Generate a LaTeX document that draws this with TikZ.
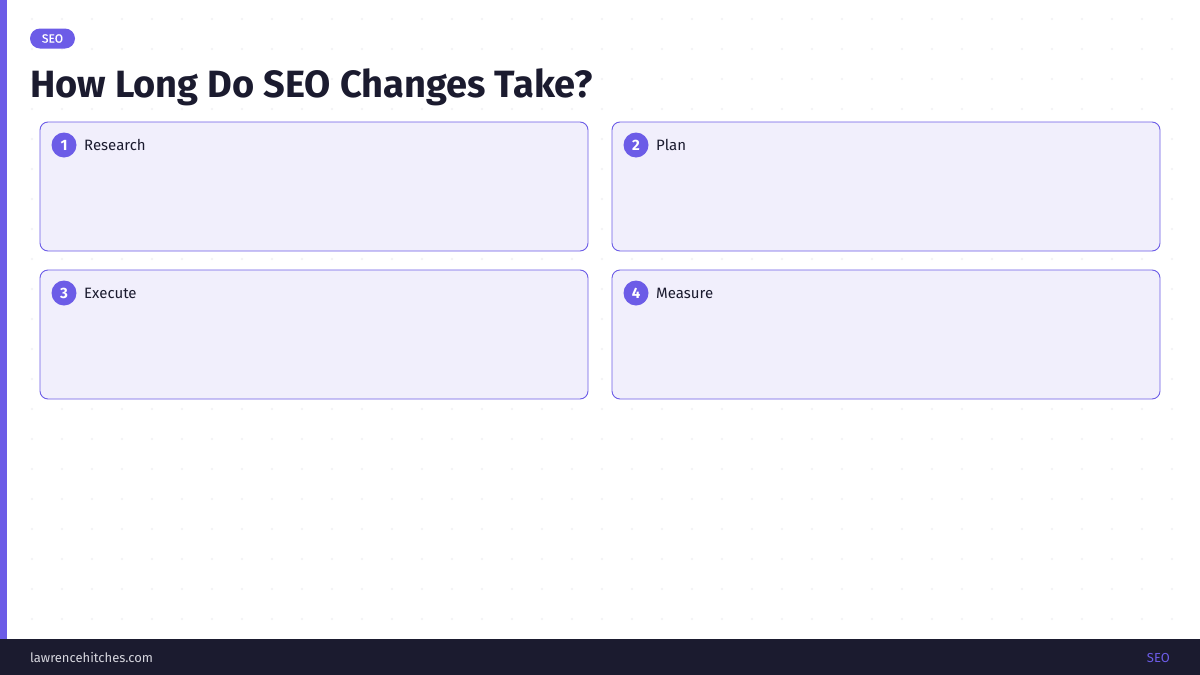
\documentclass[tikz,border=0pt]{standalone}
\usepackage{fontspec}
\setmainfont{Fira Sans}
\newfontfamily\titlefont{Fira Sans Bold}
\definecolor{brand}{HTML}{6C5CE7}
\definecolor{ink}{HTML}{1B1B2F}
\definecolor{cardfill}{HTML}{F1EFFC}
\definecolor{dotc}{HTML}{F1F1F4}
\definecolor{foottext}{HTML}{D6D6DE}
\tikzset{
  card/.style={draw=brand, fill=cardfill, line width=0.9pt, rounded corners=8pt},
  numdot/.style={circle, fill=brand, minimum size=25pt, inner sep=0pt, text=white, font=\fontsize{15}{15}\selectfont\bfseries},
  cardlabel/.style={anchor=west, text=ink, inner sep=0pt, font=\fontsize{15}{15}\selectfont},
}
\begin{document}
\begin{tikzpicture}[x=1pt,y=-1pt]
\useasboundingbox (0,0) rectangle (1200,675);
\fill[white] (0,0) rectangle (1200,675);
% dot grid
\foreach \xx in {32,62,...,1190}{
  \foreach \yy in {19,49,...,630}{
    \fill[dotc] (\xx,\yy) circle (1.1pt);
  }
}
% left bar
\fill[brand] (0,0) rectangle (7,639);
% footer
\fill[ink] (0,639) rectangle (1200,675);
\node[anchor=base west, text=foottext, inner sep=0pt, font=\fontsize{13}{13}\selectfont] (site) at (30,662) {lawrencehitches.com};
\node[anchor=base east, text=brand, inner sep=0pt, font=\fontsize{13}{13}\selectfont] (ftag) at (1170,662) {SEO};
% tag pill
\node[fill=brand, rounded corners=10pt, minimum width=45pt, minimum height=20pt, inner sep=0pt, text=white, font=\fontsize{12}{12}\selectfont\addfontfeatures{FakeBold=0.4}] (tag) at (52.5,38.5) {SEO};
% title
\node[anchor=base west, inner sep=0pt, text=ink, font=\fontsize{38}{38}\titlefont] (title) at (30,97) {How Long Do SEO Changes Take?};
% cards
\draw[card] (40,122) rectangle (588,251);
\draw[card] (612,122) rectangle (1160,251);
\draw[card] (40,270) rectangle (588,399);
\draw[card] (612,270) rectangle (1160,399);
\node[numdot] (n1) at (64,145) {1};
\node[cardlabel] (l1) at (84,145) {Research};
\node[numdot] (n2) at (636,145) {2};
\node[cardlabel] (l2) at (656,145) {Plan};
\node[numdot] (n3) at (64,293) {3};
\node[cardlabel] (l3) at (84,293) {Execute};
\node[numdot] (n4) at (636,293) {4};
\node[cardlabel] (l4) at (656,293) {Measure};
\end{tikzpicture}
\end{document}
